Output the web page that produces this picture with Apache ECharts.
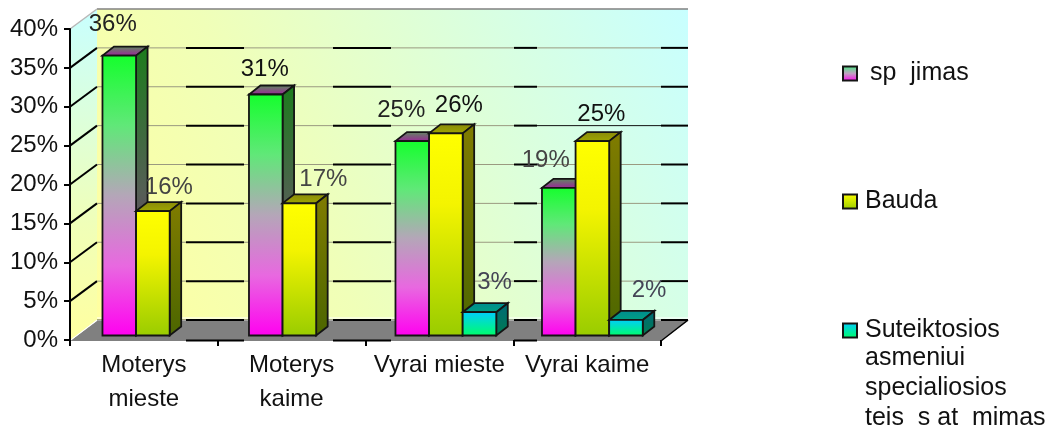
<!DOCTYPE html>
<html>
<head>
<meta charset="utf-8">
<style>html,body{margin:0;padding:0;background:#fff}#c{width:1050px;height:429px}</style>
<script src="https://cdn.jsdelivr.net/npm/echarts@6/dist/echarts.min.js"></script>
</head>
<body>
<div id="c"></div>
<script>
// ---- data ----
const categories = ['Moterys\nmieste', 'Moterys\nkaime', 'Vyrai mieste', 'Vyrai kaime'];
const speJimas = [36, 31, 25, 19];
const bauda = [16, 17, 26, 25];
const teises = [null, null, 3, 2];
const seriesNames = ['sp  jimas', 'Bauda', 'Suteiktosios\nasmeniui\nspecialiosios\nteis  s at  mimas'];
const yTicks = [0, 5, 10, 15, 20, 25, 30, 35, 40];

// ---- layout / style ----
const FONT = '24px "Liberation Sans", Arial, sans-serif';
const LEGEND_FONT = '25px "Liberation Sans", Arial, sans-serif';
const DEPTH = [27, -20], BAR_DEPTH = [11.5, -9], BAR_LIFT = -4.5, BAR_W = 33.6;
const BANDS = [[27, 116], [174, 263], [321, 444], [467, 591]];
const OPEN = [[116, 174], [263, 321], [444, 467], [591, 618]];
const grad = (stops, horizontal) => ({
  type: 'linear', x: 0, y: 0, x2: horizontal ? 1 : 0, y2: horizontal ? 0 : 1,
  colorStops: stops.map((c, i) => ({ offset: Array.isArray(c) ? c[0] : i / (stops.length - 1), color: Array.isArray(c) ? c[1] : c }))
});
const wallGrad = { type: 'linear', x: 0, y: 1, x2: 1, y2: 0, colorStops: [
  { offset: 0, color: '#ffffa0' }, { offset: 0.35, color: '#f0ffb8' }, { offset: 1, color: '#c8ffff' }] };
const looks = [
  { front: grad([[0, '#14ff2c'], [0.25, '#60e878'], [0.5, '#b4a6b8'], [0.75, '#e868e0'], [1, '#ff00f0']]),
    side: grad(['#1c7c1c', '#555f55', '#7c1c7c']), top: grad(['#5c8f5c', '#a0209c']),
    legend: grad(['#40f080', '#c0a0c0', '#ff00f0']),
    nudge: [[-6.5, -31], [-1, -25], [-11, -31], [-13, -27]], ink: ['#222', '#111', '#222', '#444'] },
  { front: grad([[0, '#ffff00'], [0.35, '#f4f400'], [1, '#99cc00']]),
    side: grad(['#807c00', '#4c6600']), top: grad(['#88880a', '#a0a800']),
    legend: grad(['#ffff00', '#99cc00']),
    nudge: [[16, -24], [24, -24], [13, -28], [9, -27]], ink: ['#444', '#444', '#111', '#111'] },
  { front: grad(['#00ccff', '#00ff66']), side: grad(['#006a78', '#007a50']), top: grad(['#008a90', '#00a080']),
    legend: grad(['#00ccff', '#00ff66']),
    nudge: [[0, 0], [0, 0], [15, -30], [23, -30]], ink: ['#444', '#444', '#445', '#445'] }
];

const poly = (points, fill, stroke, lw) => ({
  type: 'polygon', shape: { points }, style: { fill, stroke: stroke || null, lineWidth: lw || 0 }, silent: true
});
const seg = (x1, y1, x2, y2, stroke, lineWidth) => ({
  type: 'line', shape: { x1, y1, x2, y2 }, style: { stroke, lineWidth }, silent: true
});

function renderWalls(params, api) {
  const g = params.coordSys, x0 = g.x, x1 = g.x + g.width, top = api.coord([0, 40])[1], bot = api.coord([0, 0])[1];
  const [dx, dy] = DEPTH;
  return { type: 'group', children: [
    poly([[x0 + dx, top + dy], [x1 + dx, top + dy], [x1 + dx, bot + dy], [x0 + dx, bot + dy]], wallGrad),
    poly([[x0, top], [x0 + dx, top + dy], [x0 + dx, bot + dy], [x0, bot]], wallGrad),
    poly([[x0, bot + 1], [x0 + dx, bot + dy + 1], [x1 + dx, bot + dy + 1], [x1, bot + 1]], '#808080'),
    seg(x0 + dx, top + dy, x1 + dx, top + dy, '#808080', 1.5),
    seg(x0, top, x0 + dx, top + dy, '#b8b8b8', 1.5),
    seg(x0 + 1, bot, x0 + dx, bot + dy, '#ffffff', 1),
    seg(x1, bot + 1, x1 + dx, bot + dy, '#000', 1.5),
    seg(x0 + dx, bot + dy - 2, x1 + dx, bot + dy - 2, '#ffffff', 1)
  ] };
}

function renderGrid(params, api) {
  const v = api.value(0), g = params.coordSys, y = api.coord([0, v])[1], x0 = g.x;
  const [dx, dy] = DEPTH, by = y + dy;
  const kids = [];
  if (v === 40) return null;
  if (v > 0) kids.push(seg(x0, y, x0 + dx, by, '#000', 2));
  OPEN.forEach(b => kids.push(seg(x0 + b[0], by, x0 + b[1], by, '#000', 2)));
  BANDS.forEach((b, i) => {
    const dark = v === 25 && i === 3;
    kids.push(seg(x0 + b[0], by, x0 + b[1], by, dark ? '#111' : (v === 0 ? '#555' : '#9a9a80'), 1));
  });
  if (v === 0) [[116, 174], [263, 321], [444, 467]].forEach(b => kids.push(seg(x0 + b[0], y + 0.5, x0 + b[1], y + 0.5, '#000', 2)));
  return { type: 'group', children: kids };
}

function barRenderer(s) {
  return function (params, api) {
    const val = api.value(1);
    if (val == null || isNaN(val)) return null;
    const i = api.value(0), look = looks[s];
    const base = api.coord([i, 0]), tip = api.coord([i, val]);
    const xL = base[0] - 41.4 - i * 1.25 + s * BAR_W, xR = xL + BAR_W;
    const yB = base[1] + BAR_LIFT, yT = tip[1] + BAR_LIFT;
    const [bx, by] = BAR_DEPTH, ink = '#141414';
    const n = look.nudge[i];
    return { type: 'group', children: [
      poly([[xL, yT], [xR, yT], [xR + bx, yT + by], [xL + bx, yT + by]], look.top, ink, 1.8),
      poly([[xR, yT], [xR + bx, yT + by], [xR + bx, yB + by], [xR, yB]], look.side, ink, 1.8),
      poly([[xL, yT], [xR, yT], [xR, yB], [xL, yB]], look.front, ink, 1.8),
      { type: 'text', z2: 50, silent: true, style: { text: val + '%', x: (xL + xR) / 2 + n[0], y: yT + n[1],
        align: 'center', verticalAlign: 'middle', font: FONT, fill: look.ink[i] } }
    ] };
  };
}

const chart = echarts.init(document.getElementById('c'));
const mkBars = (vals, s) => ({
  type: 'custom', name: seriesNames[s], z: 5 + s, silent: true, clip: false,
  renderItem: barRenderer(s), encode: { x: 0, y: 1 },
  itemStyle: { color: looks[s].legend, borderColor: '#141414', borderWidth: 2 },
  data: vals.map((v, i) => [i, v])
});
const mkLegend = (s, top) => ({
  data: [{ name: seriesNames[s], icon: 'rect' }], left: 842, top, padding: 0, orient: 'vertical',
  itemWidth: 14, itemHeight: 14, itemGap: 0, selectedMode: false,
  formatter: n => n.split('\n')[0],
  textStyle: { fontFamily: 'Liberation Sans', fontSize: 25, color: '#111', padding: [0, 0, 8, s === 0 ? 8 : 3] }
});

chart.setOption({
  animation: false,
  backgroundColor: '#fff',
  grid: { left: 70, right: 389, top: 29, bottom: 89, containLabel: false },
  legend: [mkLegend(0, 61), mkLegend(1, 189), mkLegend(2, 318)],
  xAxis: {
    type: 'category', data: categories, z: 10,
    axisLine: { show: false },
    axisTick: { show: true, alignWithLabel: false, length: 6, lineStyle: { color: '#000', width: 2 } },
    axisLabel: { fontFamily: 'Liberation Sans', fontSize: 24, color: '#111', lineHeight: 34, margin: 8, interval: 0 },
    splitLine: { show: false }
  },
  yAxis: {
    type: 'value', min: 0, max: 40, interval: 5, z: 10,
    axisLine: { show: true, lineStyle: { color: '#000', width: 2 } },
    axisTick: { show: true, length: 6, lineStyle: { color: '#000', width: 2 } },
    axisLabel: { fontFamily: 'Liberation Sans', fontSize: 24, color: '#111', formatter: v => v + '%', margin: 12, padding: [0, 0, 12, 0] },
    splitLine: { show: false }
  },
  graphic: [{
    type: 'text', left: 865, top: 343, silent: true,
    style: { text: seriesNames[2].split('\n').slice(1).join('\n'), font: LEGEND_FONT, fill: '#111', lineHeight: 30 }
  }],
  series: [
    { type: 'custom', z: 1, silent: true, clip: false, renderItem: renderWalls, encode: { x: 0, y: 1 }, data: [[0, 0]] },
    { type: 'custom', z: 2, silent: true, clip: false, renderItem: renderGrid, encode: { y: 0 }, data: yTicks.map(v => [v]) },
    mkBars(speJimas, 0), mkBars(bauda, 1), mkBars(teises, 2)
  ]
});
</script>
</body>
</html>
